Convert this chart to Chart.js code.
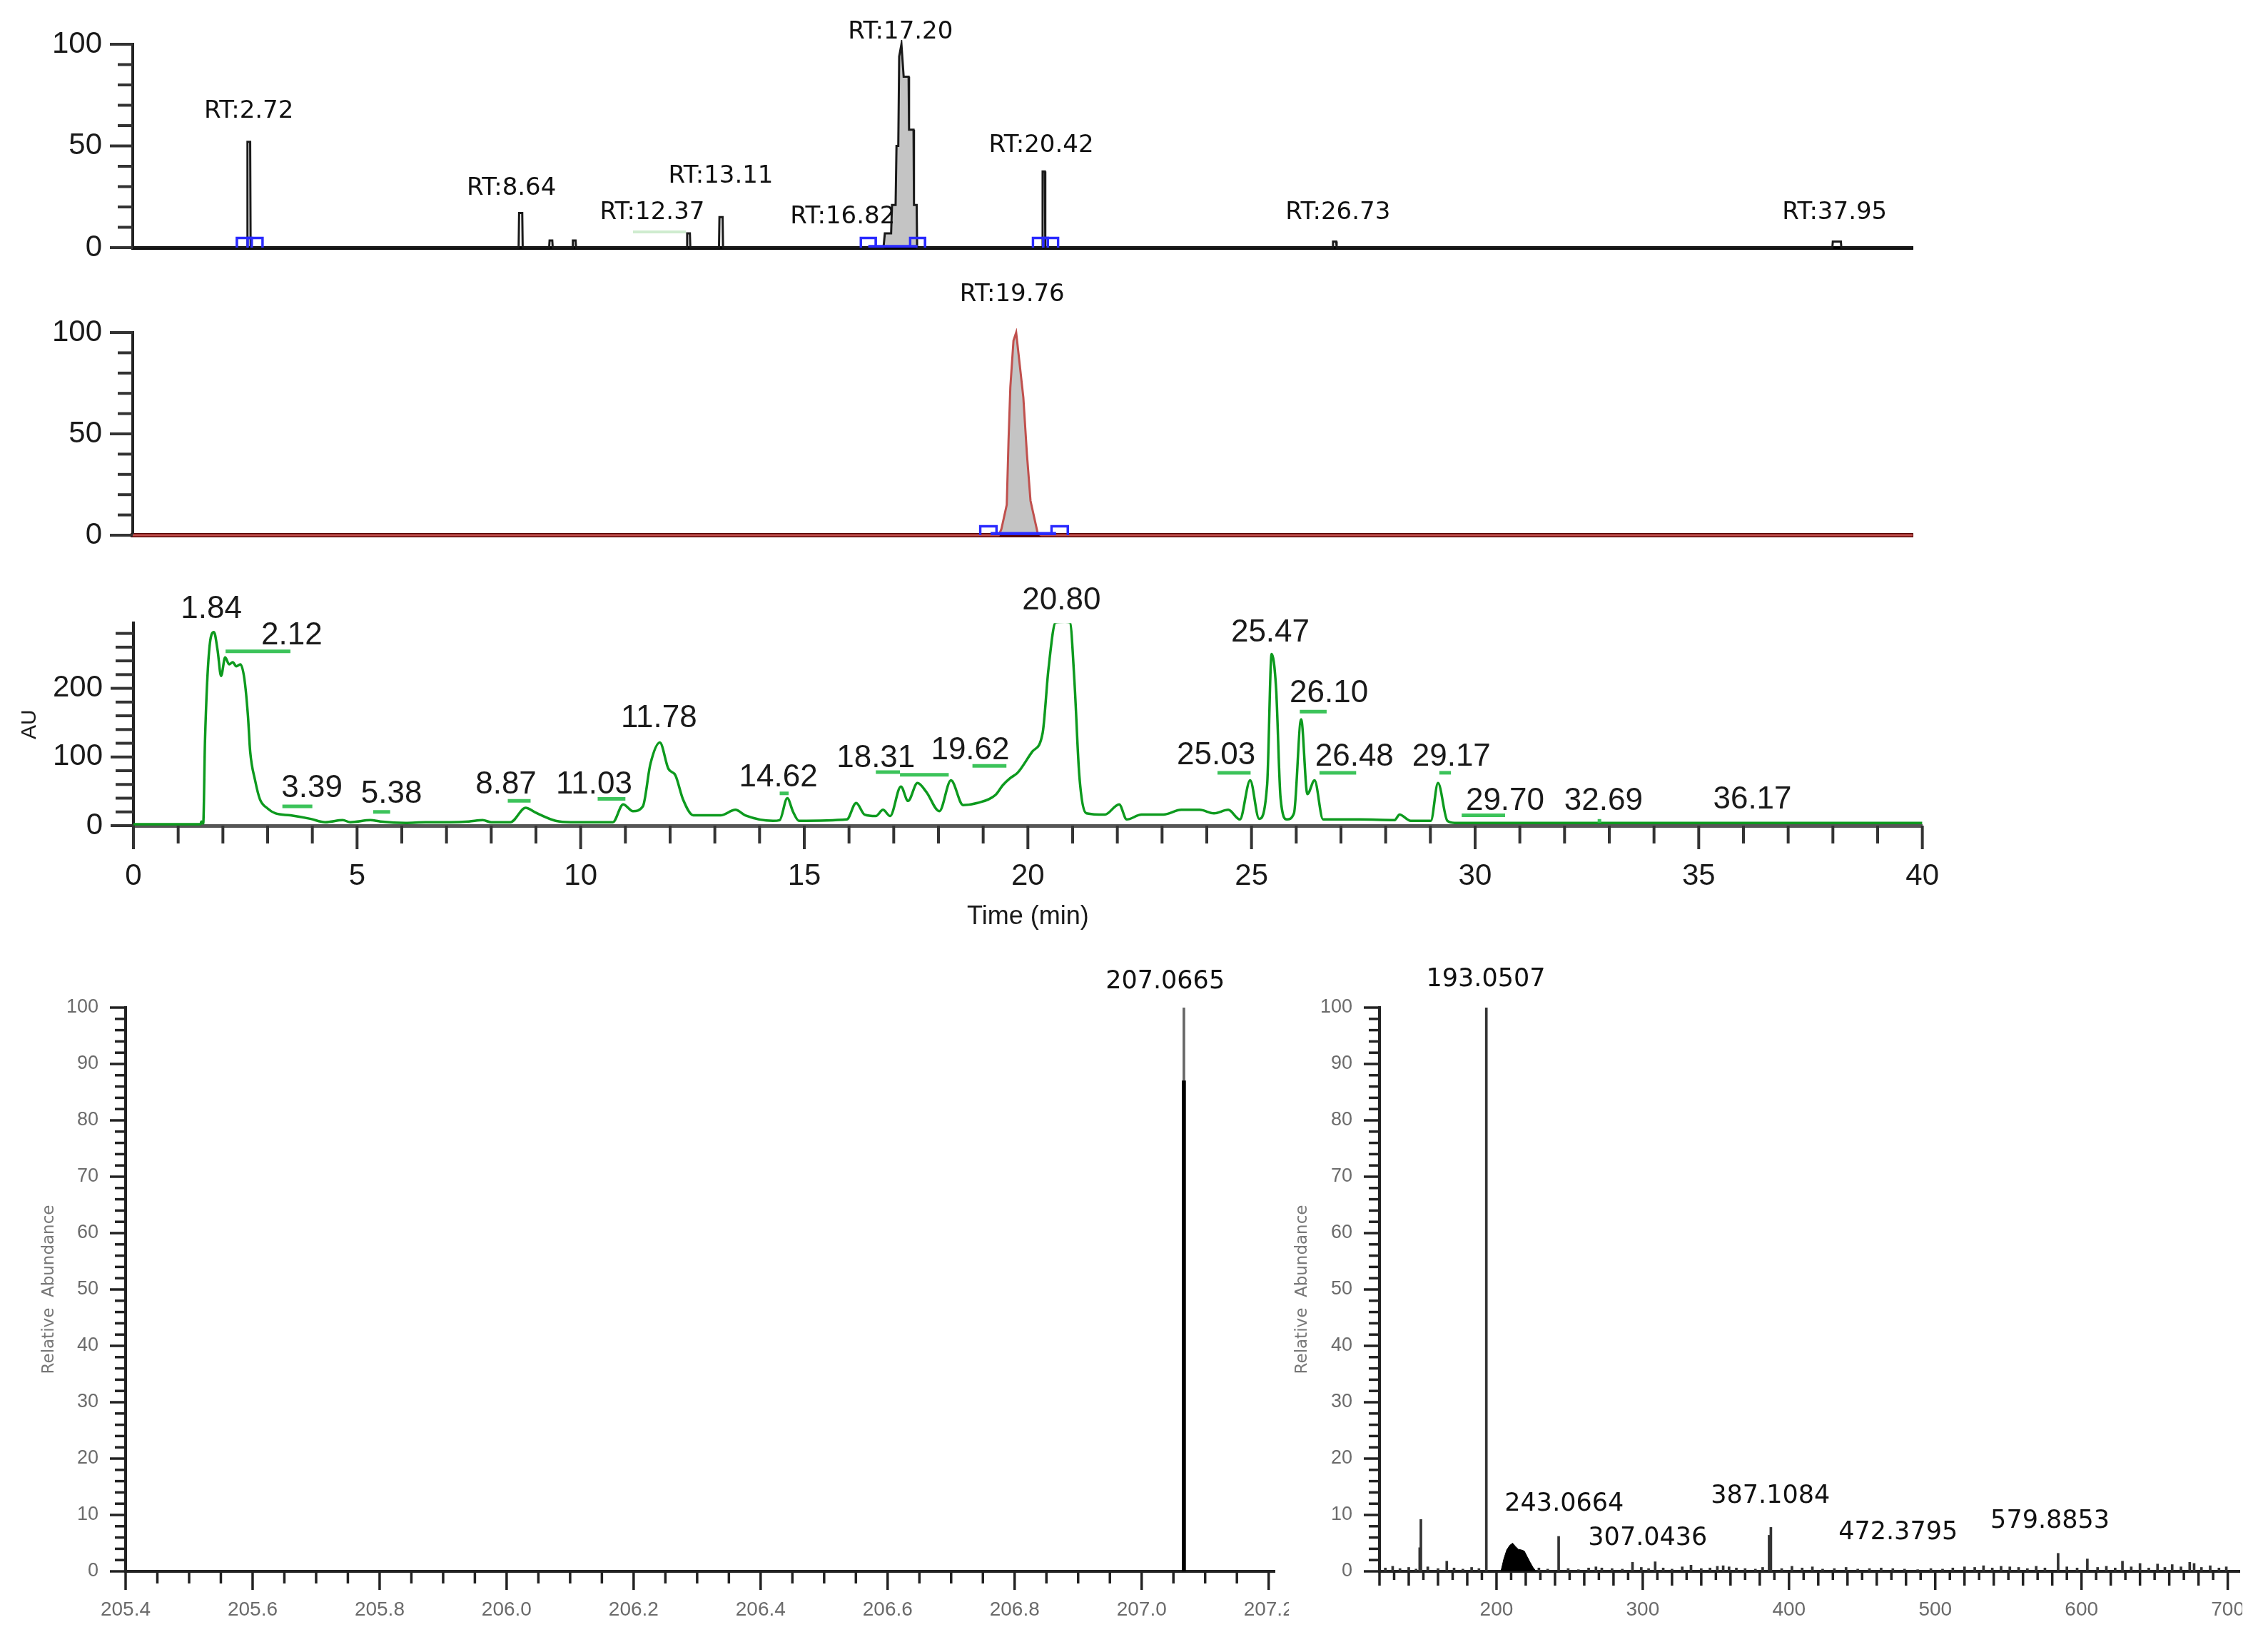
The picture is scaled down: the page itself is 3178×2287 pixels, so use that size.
<!DOCTYPE html>
<html>
<head>
<meta charset="utf-8">
<title>Cromatogramas y espectros de masas</title>
<script src="https://cdn.jsdelivr.net/npm/chart.js@4.4.1/dist/chart.umd.min.js"></script>
<style>
  html, body { margin: 0; padding: 0; background: #fff; }
  body { position: relative; width: 3178px; height: 2287px; overflow: hidden; }
  .panel { position: absolute; overflow: hidden; }
  .panel canvas { position: absolute; left: 0; top: 0; }
</style>
</head>
<body>
<div class="panel" id="wrap-p1"><canvas id="p1"></canvas></div>
<div class="panel" id="wrap-p2"><canvas id="p2"></canvas></div>
<div class="panel" id="wrap-p3"><canvas id="p3"></canvas></div>
<div class="panel" id="wrap-msl"><canvas id="msl"></canvas></div>
<div class="panel" id="wrap-msr"><canvas id="msr"></canvas></div>
<script>
/* Cromatogramas (EIC, UV) + dos espectros de masas */

// --- Panel 1: EIC (time min / relative abundance)
const p1Time  = [0.13, 2.68, 2.69, 2.75, 2.76, 8.74, 8.75, 8.82, 8.83, 9.42, 9.43, 9.49, 9.50,
                 9.94, 9.95, 10.01, 10.02, 12.49, 12.50, 12.56, 12.57, 13.21, 13.22, 13.29, 13.30,
                 16.88, 16.91, 17.05, 17.07, 17.15, 17.17, 17.21, 17.23, 17.28, 17.33, 17.44, 17.45,
                 17.55, 17.56, 17.62, 17.63, 20.42, 20.43, 20.48, 20.49, 26.90, 26.91, 26.98, 26.99,
                 38.05, 38.06, 38.24, 38.25, 39.84];
const p1Abund = [0, 0, 52, 52, 0, 0, 17, 17, 0, 0, 3.5, 3.5, 0,
                 0, 3.5, 3.5, 0, 0, 7, 7, 0, 0, 15, 15, 0,
                 0, 7, 7, 21, 21, 50, 50, 94, 100, 84, 84, 58,
                 58, 21, 21, 0, 0, 37.5, 37.5, 0, 0, 3, 3, 0,
                 0, 3, 3, 0, 0];
const p1BoxTime = [2.62, 2.86, 16.54, 17.64, 20.38, 20.61];
const p1BoxLine = [16.54, 17.64];
const p1Labels  = ['RT:2.72', 'RT:8.64', 'RT:12.37', 'RT:13.11', 'RT:16.82', 'RT:17.20', 'RT:20.42', 'RT:26.73', 'RT:37.95'];
const p1LabelX  = [2.72, 8.58, 11.72, 13.25, 15.97, 17.26, 20.40, 27.02, 38.10];
const p1LabelY  = [67, 29, 17, 35, 15, 106, 50, 17, 17];

// --- Panel 2: EIC
const p2Time  = [0.13, 19.45, 19.51, 19.63, 19.67, 19.71, 19.78, 19.84, 19.92, 20.0, 20.08, 20.16, 20.32, 20.40, 39.84];
const p2Abund = [0, 0, 3, 15, 47, 73, 96, 100, 84, 68, 40, 17, 1, 0, 0];
const p2BoxTime = [19.22, 20.81];
const p2BoxLine = [19.27, 20.73];
const p2Labels  = ['RT:19.76'];
const p2LabelX  = [19.75];
const p2LabelY  = [118.7];

// --- Panel 3: UV (AU)
const p3Time = [0, 1.5, 1.52, 1.56, 1.6, 1.69, 1.80, 1.88, 1.96, 2.05,
                2.14, 2.22, 2.30, 2.39, 2.48, 2.56, 2.61, 2.72, 2.83, 3.0,
                3.17, 3.51, 3.95, 4.29, 4.68, 4.85, 5.3, 5.52, 6.08, 6.53,
                7.08, 7.5, 7.81, 8.0, 8.43, 8.77, 8.99, 9.44, 9.78, 10.72,
                10.95, 11.17, 11.39, 11.56, 11.77, 11.96, 12.12, 12.29, 12.52, 13.13,
                13.46, 13.68, 14.3, 14.45, 14.62, 14.75, 14.88, 15.95, 16.16, 16.35,
                16.6, 16.76, 16.92, 17.16, 17.32, 17.53, 17.73, 18.02, 18.28, 18.55,
                18.87, 19.28, 19.44, 19.6, 19.77, 20.1, 20.33, 20.46, 20.62, 20.83,
                20.94, 21.04, 21.15, 21.31, 21.72, 22.04, 22.21, 22.54, 23.03, 23.43,
                23.84, 24.16, 24.48, 24.74, 24.97, 25.17, 25.35, 25.45, 25.55, 25.65,
                25.79, 25.95, 26.11, 26.25, 26.41, 26.6, 27.42, 28.2, 28.31, 28.56,
                29.01, 29.17, 29.38, 29.54, 40];
const p3AU = [2, 2, 6, 3, 124, 253, 282, 256, 218, 245,
              235, 238, 232, 235, 214, 160, 108, 66, 38, 25,
              18, 15, 10, 5, 8, 5, 8, 6, 4, 5,
              5, 6, 8, 5, 5, 26, 19, 7, 5, 5,
              31, 21, 28, 90, 121, 83, 73, 38, 15, 15,
              23, 15, 7, 8, 40, 20, 7, 9, 33, 16,
              14, 23, 14, 57, 36, 62, 49, 21, 66, 30,
              33, 45, 59, 69, 77, 108, 135, 228, 296, 297,
              296, 211, 73, 18, 16, 31, 9, 16, 16, 23,
              23, 18, 23, 9, 66, 10, 60, 250, 200, 40,
              9, 18, 155, 46, 66, 9, 9, 8, 16, 7,
              7, 62, 7, 4, 4];
const p3Labels = ['1.84', '2.12', '3.39', '5.38', '8.87', '11.03', '11.78', '14.62', '18.31', '19.62',
                  '20.80', '25.03', '25.47', '26.10', '26.48', '29.17', '29.70', '32.69', '36.17'];
const p3LabelX = [1.74, 3.54, 3.99, 5.77, 8.33, 10.30, 11.75, 14.42, 16.60, 18.71,
                  20.75, 24.21, 25.42, 26.73, 27.30, 29.47, 30.67, 32.87, 36.20];
const p3LabelY = [315, 277, 54, 46, 59, 59, 156, 70, 98, 109,
                  328, 102, 281, 192, 100, 100, 36, 36, 38];
// marcas verdes de integración
const p3DashX1 = [2.06, 3.33, 5.36, 8.37, 10.38, 14.45, 16.60, 17.14, 18.76, 24.24, 26.08, 26.52, 29.20, 29.70, 32.74];
const p3DashX2 = [3.51, 4.00, 5.74, 8.88, 11.00, 14.65, 17.14, 18.23, 19.52, 24.98, 26.68, 27.34, 29.46, 30.67, 32.82];
const p3DashY  = [254, 28, 20, 36, 39, 47, 78, 74, 87, 77, 166, 77, 77, 15, 7];

// --- Espectro izquierdo (m/z 205.4–207.2)
const mslMz    = [207.0665];
const mslAbund = [100];
const mslCore  = [87];
const mslLabels = ['207.0665'];
const mslLabelX = [207.037];
const mslLabelY = [104.6];

// --- Espectro derecho (m/z 120–700)
const msrMz = [124, 129, 134, 140, 145, 147.5, 148.3, 153, 160, 166, 171, 177, 183, 188, 193.05,
               229, 235, 242.5, 249, 256, 263, 268, 272, 279, 286, 293, 299, 304, 308.5, 314,
               320, 327, 333, 340, 346, 351, 355, 359, 364, 370, 377, 382, 386.4, 387.6, 395,
               402, 409, 416, 423, 431, 439, 447, 455, 463, 471, 479, 488, 497, 505, 512,
               520, 527, 533, 539, 545, 551, 557, 563, 569, 575, 584, 590, 597, 604, 611,
               617, 623, 628, 634, 640, 646, 652, 657, 662, 668, 674, 677, 682, 688, 694, 699];
const msrAbund = [0.6, 0.9, 0.5, 0.7, 0.4, 4.2, 9.2, 0.8, 0.5, 1.8, 0.6, 0.4, 0.7, 0.5, 100,
                  0.6, 0.4, 6.2, 0.5, 0.3, 0.6, 0.8, 0.6, 0.5, 0.4, 1.6, 0.7, 0.5, 1.7, 0.6,
                  0.4, 0.8, 1.1, 0.5, 0.6, 0.9, 1.0, 0.8, 0.6, 0.5, 0.4, 0.7, 6.4, 7.8, 0.5,
                  0.9, 0.6, 0.8, 0.4, 0.5, 0.7, 0.4, 0.5, 0.6, 0.5, 0.4, 0.3, 0.5, 0.4, 0.6,
                  0.8, 0.7, 1.0, 0.6, 0.9, 0.8, 0.7, 0.5, 0.9, 0.6, 3.2, 0.8, 0.6, 2.2, 0.7,
                  0.9, 0.6, 1.8, 0.8, 1.4, 0.6, 1.3, 0.7, 1.2, 0.8, 1.6, 1.4, 0.7, 1.0, 0.6, 0.8];
const msrHumpMz    = [203, 205, 207, 209, 211, 213, 215, 217, 219, 221, 223, 225, 227];
const msrHumpAbund = [0, 2.2, 3.8, 4.6, 5.0, 4.4, 3.9, 3.8, 3.6, 2.6, 1.6, 0.7, 0];
const msrLabels = ['193.0507', '243.0664', '307.0436', '387.1084', '472.3795', '579.8853'];
const msrLabelX = [192.7, 246.3, 303.4, 387.3, 474.6, 578.5];
const msrLabelY = [105.0, 11.9, 5.8, 13.3, 6.8, 8.9];

// --- etiquetas de ejes
const P12_Y_LABELS = [0, 50, 100];
const P3_Y_LABELS  = [0, 100, 200];
const P3_X_LABELS  = [0, 5, 10, 15, 20, 25, 30, 35, 40];
const MS_Y_LABELS  = [0, 10, 20, 30, 40, 50, 60, 70, 80, 90, 100];
const MSL_X_LABELS = [205.4, 205.6, 205.8, 206.0, 206.2, 206.4, 206.6, 206.8, 207.0, 207.2];
const MSR_X_LABELS = [200, 300, 400, 500, 600, 700];

// Helpers
const near = (list, v) => list.some(a => Math.abs(a - v) < 1e-6);
const pts = (xs, ys) => xs.map((x, i) => ({ x, y: ys[i] }));
function steps(min, max, step) {
  const n = Math.round((max - min) / step), out = [];
  for (let i = 0; i <= n; i++) out.push(+(min + i * step).toFixed(6));
  return out;
}

// Helper: posiciona el canvas para que el área del gráfico caiga donde queremos
function mount(id, g) {
  const wrap = document.getElementById('wrap-' + id);
  const cv = document.getElementById(id);
  const left = g.L - g.wy, top = g.T - g.pt;
  const w = g.R - g.L + g.wy + g.pr;
  const h = g.B - g.T + g.pt + g.hx;
  wrap.style.left = left + 'px';
  wrap.style.top = top + 'px';
  wrap.style.width = ((g.clip || left + w) - left) + 'px';
  wrap.style.height = h + 'px';
  cv.width = w; cv.height = h;
  cv.style.width = w + 'px'; cv.style.height = h + 'px';
  return cv.getContext('2d');
}

// Plugin: marcas de eje con largo mayor/menor
function tickMarks(specs) {
  return {
    id: 'tickMarks',
    afterDraw(chart) {
      const ctx = chart.ctx;
      specs.forEach(sp => {
        const s = chart.scales[sp.axis];
        ctx.save();
        ctx.strokeStyle = sp.color;
        ctx.lineWidth = sp.width;
        s.ticks.forEach(t => {
          const len = sp.len(t.value);
          const p = s.getPixelForValue(t.value);
          ctx.beginPath();
          if (s.isHorizontal()) { ctx.moveTo(p, s.top); ctx.lineTo(p, s.top + len); }
          else { ctx.moveTo(s.right - len, p); ctx.lineTo(s.right, p); }
          ctx.stroke();
        });
        ctx.restore();
      });
    }
  };
}

// Plugin: textos de picos y guiones verdes
function peakLabels(spec) {
  return {
    id: 'peakLabels',
    afterDatasetsDraw(chart) {
      const { ctx, scales: { x, y } } = chart;
      ctx.save();
      if (spec.dashX1) {
        ctx.strokeStyle = spec.dashColor;
        ctx.lineWidth = spec.dashWidth;
        spec.dashX1.forEach((x1, i) => {
          const py = y.getPixelForValue(spec.dashY[i]);
          ctx.beginPath();
          ctx.moveTo(x.getPixelForValue(x1), py);
          ctx.lineTo(x.getPixelForValue(spec.dashX2[i]), py);
          ctx.stroke();
        });
      }
      ctx.font = spec.font;
      ctx.fillStyle = spec.color;
      ctx.textAlign = 'center';
      ctx.textBaseline = 'middle';
      spec.text.forEach((t, i) => {
        ctx.fillText(t, x.getPixelForValue(spec.x[i]), y.getPixelForValue(spec.y[i]));
      });
      ctx.restore();
    }
  };
}

Chart.defaults.font.family = '"Liberation Sans", Arial, sans-serif';

const base = {
  responsive: false,
  animation: false,
  events: [],
  plugins: { legend: { display: false }, tooltip: { enabled: false } }
};

function yAxis(g, min, max, tickVals, labels, extra) {
  return Object.assign({
    type: 'linear', min, max,
    afterFit: s => { s.width = g.wy; },
    afterBuildTicks: s => { s.ticks = tickVals.map(v => ({ value: v })); },
    grid: { display: false },
    border: { display: true, color: '#222', width: 4 },
    ticks: { autoSkip: false, padding: 35, color: '#1a1a1a', font: { size: 42 },
             callback: v => near(labels, v) ? String(v) : '' }
  }, extra || {});
}

// ---------- Panel 1
const G1 = { L: 186, T: 62, R: 2680, B: 347, wy: 186, pt: 62, pr: 60, hx: 66 };
new Chart(mount('p1', G1), {
  type: 'line',
  data: {
    datasets: [
      { type: 'bar', data: p1BoxTime.map(x => ({ x, y: 5.3 })), backgroundColor: 'rgba(0,0,0,0)',
        borderColor: '#2a2aff', borderWidth: 3, barThickness: 24, grouped: false, order: 0 },
      { data: p1BoxLine.map(x => ({ x, y: 0.6 })), borderColor: '#2a2aff', borderWidth: 4, pointRadius: 0, order: 0 },
      { data: pts(p1Time, p1Abund), borderColor: '#1a1a1a', borderWidth: 3, pointRadius: 0, tension: 0, clip: 6, order: 1 },
      { data: pts(p1Time, p1Abund).filter(p => p.x >= 16.8 && p.x <= 17.7), borderWidth: 0, pointRadius: 0,
        fill: 'origin', backgroundColor: '#c4c4c4', clip: 6, order: 2 }
    ]
  },
  options: Object.assign({}, base, {
    layout: { padding: { top: G1.pt, right: G1.pr, left: 0, bottom: 0 } },
    scales: {
      x: { type: 'linear', min: 0.13, max: 39.84, offset: false,
           afterFit: s => { s.height = G1.hx; },
           grid: { display: false }, border: { display: true, color: '#000', width: 5 },
           ticks: { display: false } },
      y: yAxis(G1, 0, 100, steps(0, 100, 10), P12_Y_LABELS)
    }
  }),
  plugins: [
    tickMarks([{ axis: 'y', color: '#333', width: 4, len: v => near(P12_Y_LABELS, v) ? 32 : 21 }]),
    peakLabels({ text: p1Labels, x: p1LabelX, y: p1LabelY, font: '34px "DejaVu Sans"', color: '#111',
                 dashX1: [11.29], dashX2: [12.47], dashY: [7.7], dashColor: '#cfeccf', dashWidth: 4 })
  ]
});

// ---------- Panel 2
const G2 = { L: 186, T: 466, R: 2680, B: 750, wy: 186, pt: 80, pr: 60, hx: 66 };
new Chart(mount('p2', G2), {
  type: 'line',
  data: {
    datasets: [
      { type: 'bar', data: p2BoxTime.map(x => ({ x, y: 5 })), backgroundColor: 'rgba(0,0,0,0)',
        borderColor: '#2a2aff', borderWidth: 3, barThickness: 26, grouped: false, order: 0 },
      { data: p2BoxLine.map(x => ({ x, y: 0.7 })), borderColor: '#2a2aff', borderWidth: 5, pointRadius: 0, order: 0 },
      { data: pts(p2Time, p2Abund), borderColor: '#c0504d', borderWidth: 3, pointRadius: 0, tension: 0, clip: 6, order: 1 },
      { data: pts(p2Time, p2Abund).filter(p => p.x >= 19.4 && p.x <= 20.45), borderWidth: 0, pointRadius: 0,
        fill: 'origin', backgroundColor: '#c4c4c4', clip: 6, order: 2 }
    ]
  },
  options: Object.assign({}, base, {
    layout: { padding: { top: G2.pt, right: G2.pr, left: 0, bottom: 0 } },
    scales: {
      x: { type: 'linear', min: 0.13, max: 39.84, offset: false,
           afterFit: s => { s.height = G2.hx; },
           grid: { display: false }, border: { display: true, color: '#5a0000', width: 6 },
           ticks: { display: false } },
      y: yAxis(G2, 0, 100, steps(0, 100, 10), P12_Y_LABELS)
    }
  }),
  plugins: [
    tickMarks([{ axis: 'y', color: '#333', width: 4, len: v => near(P12_Y_LABELS, v) ? 32 : 21 }]),
    peakLabels({ text: p2Labels, x: p2LabelX, y: p2LabelY, font: '34px "DejaVu Sans"', color: '#111' })
  ]
});

// ---------- Panel 3 (UV)
const G3 = { L: 187, T: 873, R: 2695, B: 1157, wy: 187, pt: 60, pr: 60, hx: 150 };
new Chart(mount('p3', G3), {
  type: 'line',
  data: {
    datasets: [
      { data: pts(p3Time, p3AU), borderColor: '#0d9a1e', borderWidth: 3.5, pointRadius: 0,
        cubicInterpolationMode: 'monotone' }
    ]
  },
  options: Object.assign({}, base, {
    layout: { padding: { top: G3.pt, right: G3.pr, left: 0, bottom: 0 } },
    scales: {
      x: { type: 'linear', min: 0, max: 40, offset: false,
           afterFit: s => { s.height = G3.hx; },
           afterBuildTicks: s => { s.ticks = steps(0, 40, 1).map(v => ({ value: v })); },
           grid: { display: false }, border: { display: true, color: '#555', width: 5 },
           ticks: { autoSkip: false, maxRotation: 0, padding: 38, color: '#1a1a1a', font: { size: 42 },
                    callback: v => near(P3_X_LABELS, v) ? String(v) : '' },
           title: { display: true, text: 'Time (min)', color: '#1a1a1a', font: { size: 36 },
                    padding: { top: 0, bottom: 0 } } },
      y: yAxis(G3, 0, 295, steps(0, 280, 20), P3_Y_LABELS, {
           title: { display: true, text: 'AU', color: '#1a1a1a', font: { size: 30 }, padding: { top: 24, bottom: 0 } } })
    }
  }),
  plugins: [
    tickMarks([
      { axis: 'y', color: '#333', width: 4, len: v => near(P3_Y_LABELS, v) ? 32 : 25 },
      { axis: 'x', color: '#333', width: 4, len: v => near(P3_X_LABELS, v) ? 33 : 25 }
    ]),
    peakLabels({ text: p3Labels, x: p3LabelX, y: p3LabelY, font: '44px "Liberation Sans"', color: '#1a1a1a',
                 dashX1: p3DashX1, dashX2: p3DashX2, dashY: p3DashY, dashColor: '#3cc35a', dashWidth: 5 })
  ]
});

// ---------- Espectros
function msY(g) {
  return yAxis(g, 0, 100, steps(0, 100, 2), MS_Y_LABELS, {
    border: { display: true, color: '#222', width: 4 },
    ticks: { autoSkip: false, padding: 30, color: '#6b6b6b', font: { size: 27 },
             callback: v => near(MS_Y_LABELS, v) ? String(v) : '' },
    title: { display: true, text: 'Relative  Abundance', color: '#777',
             font: { size: 23, family: '"DejaVu Sans"' }, padding: { top: g.titlePad, bottom: 0 } }
  });
}

const GL = { L: 176, T: 1412, R: 1792, B: 2202, wy: 176, pt: 70, pr: 50, hx: 85, clip: 1806, titlePad: 55 };
new Chart(mount('msl', GL), {
  type: 'bar',
  data: {
    datasets: [
      { data: pts(mslMz, mslCore), backgroundColor: '#000', barThickness: 5, grouped: false, order: 0 },
      { data: pts(mslMz, mslAbund), backgroundColor: '#666', barThickness: 3, grouped: false, order: 1 }
    ]
  },
  options: Object.assign({}, base, {
    layout: { padding: { top: GL.pt, right: GL.pr, left: 0, bottom: 0 } },
    scales: {
      x: { type: 'linear', min: 205.4, max: 207.21, offset: false,
           afterFit: s => { s.height = GL.hx; },
           afterBuildTicks: s => { s.ticks = steps(205.4, 207.2, 0.05).map(v => ({ value: v })); },
           grid: { display: false, offset: false }, border: { display: true, color: '#222', width: 4 },
           ticks: { autoSkip: false, maxRotation: 0, padding: 29, color: '#6b6b6b', font: { size: 28 },
                    callback: v => near(MSL_X_LABELS, v) ? v.toFixed(1) : '' } },
      y: msY(GL)
    }
  }),
  plugins: [
    tickMarks([
      { axis: 'y', color: '#222', width: 3.5, len: v => near(MS_Y_LABELS, v) ? 22 : 15 },
      { axis: 'x', color: '#222', width: 3.5, len: v => near(MSL_X_LABELS, v) ? 26 : 17 }
    ]),
    peakLabels({ text: mslLabels, x: mslLabelX, y: mslLabelY, font: '35px "DejaVu Sans"', color: '#111' })
  ]
});

const GR = { L: 1933, T: 1412, R: 3138, B: 2202, wy: 140, pt: 70, pr: 40, hx: 85, clip: 3142, titlePad: 18 };
new Chart(mount('msr', GR), {
  type: 'bar',
  data: {
    datasets: [
      { data: pts(msrMz, msrAbund), backgroundColor: '#333', barThickness: 3, grouped: false, order: 0 },
      { type: 'line', data: pts(msrHumpMz, msrHumpAbund), borderColor: '#000', borderWidth: 1,
        backgroundColor: '#000', fill: 'origin', pointRadius: 0, tension: 0, order: 1 }
    ]
  },
  options: Object.assign({}, base, {
    layout: { padding: { top: GR.pt, right: GR.pr, left: 0, bottom: 0 } },
    scales: {
      x: { type: 'linear', min: 120, max: 708, offset: false,
           afterFit: s => { s.height = GR.hx; },
           afterBuildTicks: s => { s.ticks = steps(120, 700, 10).map(v => ({ value: v })); },
           grid: { display: false, offset: false }, border: { display: true, color: '#222', width: 4 },
           ticks: { autoSkip: false, maxRotation: 0, padding: 29, color: '#6b6b6b', font: { size: 28 },
                    callback: v => near(MSR_X_LABELS, v) ? String(v) : '' } },
      y: msY(GR)
    }
  }),
  plugins: [
    tickMarks([
      { axis: 'y', color: '#222', width: 3.5, len: v => near(MS_Y_LABELS, v) ? 22 : 15 },
      { axis: 'x', color: '#222', width: 3.5,
        len: v => near(MSR_X_LABELS, v) ? 26 : (Math.round(v) % 20 === 0 ? 20 : 12) }
    ]),
    peakLabels({ text: msrLabels, x: msrLabelX, y: msrLabelY, font: '35px "DejaVu Sans"', color: '#111' })
  ]
});
</script>
</body>
</html>
